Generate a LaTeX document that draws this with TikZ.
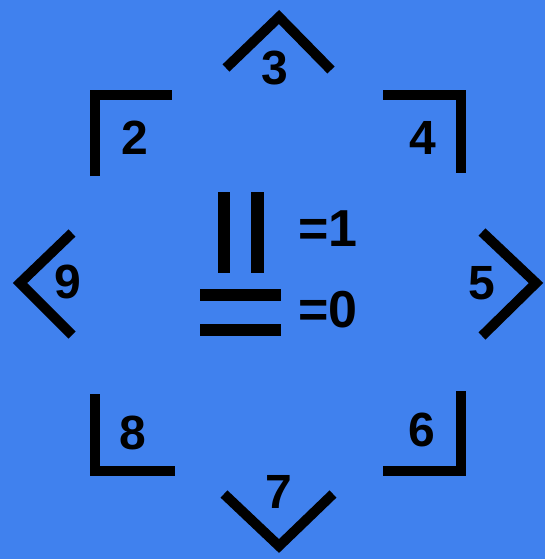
\documentclass[tikz,border=0pt]{standalone}
\usepackage{fontspec}
\setmainfont{Liberation Sans}
\definecolor{bgblue}{RGB}{64,129,238}
\begin{document}
\begin{tikzpicture}[x=1pt,y=-1pt,
  mark line/.style={line width=10pt,line join=miter,line cap=butt},
  bar/.style={line width=12.5pt,line cap=butt},
  digit/.style={inner sep=0pt,font=\bfseries\fontsize{48}{48}\selectfont},
  eqlabel/.style={inner sep=0pt,font=\bfseries\fontsize{52}{52}\selectfont}]
\fill[bgblue] (0,0) rectangle (545,559);
\useasboundingbox (0,0) rectangle (545,559);
% 3 (top chevron)
\draw[mark line] (226,68) -- (279,17) -- (331,70);
\node[digit] (n3) at (275,68) {3};
% 2 (top-left bracket)
\draw[mark line] (95,176) -- (95,95) -- (172,95);
\node[digit] (n2) at (135,138) {2};
% 4 (top-right bracket)
\draw[mark line] (383,95) -- (461,95) -- (461,173);
\node[digit] (n4) at (423,138) {4};
% 9 (left chevron)
\draw[mark line] (72,233) -- (20,283) -- (72,335);
\node[digit] (n9) at (68,282) {9};
% 5 (right chevron)
\draw[mark line] (482,232) -- (536,283) -- (482,336);
\node[digit] (n5) at (482,283) {5};
% 8 (bottom-left bracket)
\draw[mark line] (95,394) -- (95,471) -- (175,471);
\node[digit] (n8) at (133,433) {8};
% 6 (bottom-right bracket)
\draw[mark line] (461,391) -- (461,471) -- (383,471);
\node[digit] (n6) at (422,430) {6};
% 7 (bottom chevron)
\draw[mark line] (224,494) -- (279,546) -- (333,494);
\node[digit] (n7) at (279,492) {7};
% centre legend
\draw[bar] (224,192) -- (224,273);
\draw[bar] (257.5,192) -- (257.5,273);
\draw[bar] (200,295) -- (281,295);
\draw[bar] (200,330) -- (281,330);
\node[eqlabel,anchor=west] (eq1) at (298,229) {=1};
\node[eqlabel,anchor=west] (eq0) at (298,310) {=0};
\end{tikzpicture}
\end{document}
